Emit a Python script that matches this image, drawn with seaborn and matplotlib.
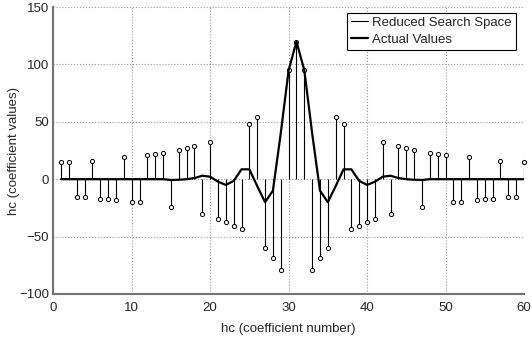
import pandas as pd
import seaborn as sns
import matplotlib.pyplot as plt
from matplotlib.lines import Line2D

# ---------------------------------------------------------------------
# Data
# ---------------------------------------------------------------------
coef_number = list(range(1, 61))

reduced_search = [
    14.7, 14.7, -15.8, -15.8, 16.1, -17.0, -17.5, -18.1, 19.0, -19.6,
    -20.0, 21.2, 22.0, 23.1, -24.5, 25.4, 27.0, 29.0, -30.0, 32.0,
    -34.7, -37.0, -40.8, -43.7, 48.0, 54.0, -60.0, -68.4, -79.0, 95.0,
    120.0, 95.0, -79.0, -68.4, -60.0, 54.0, 48.0, -43.7, -40.8, -37.0,
    -34.7, 32.0, -30.0, 29.0, 27.0, 25.4, -24.5, 23.1, 22.0, 21.2,
    -20.0, -19.6, 19.0, -18.1, -17.5, -17.0, 16.1, -15.8, -15.8, 14.7,
]

actual_values = [
    0, 0, 0, 0, 0, 0, 0, 0, 0, 0,
    0, 0, 0, 0, -0.7, -0.5, 0, 1.0, 3.0, 2.2,
    -2.2, -5.0, -1.5, 8.6, 8.6, -6.0, -20.0, -10.0, 40.0, 95.0,
    120.0, 95.0, 40.0, -10.0, -20.0, -6.0, 8.6, 8.6, -1.5, -5.0,
    -2.2, 2.2, 3.0, 1.0, 0, -0.5, -0.7, 0, 0, 0,
    0, 0, 0, 0, 0, 0, 0, 0, 0, 0,
]

x_ticks = [0, 10, 20, 30, 40, 50, 60]
y_ticks = [-100, -50, 0, 50, 100, 150]

df = pd.DataFrame({
    "n": coef_number,
    "reduced": reduced_search,
    "actual": actual_values,
})

# ---------------------------------------------------------------------
# Figure
# ---------------------------------------------------------------------
sns.set_style("white")
plt.rcParams["font.family"] = ["Liberation Sans", "DejaVu Sans"]

fig = plt.figure(figsize=(5.32, 3.39), dpi=100)
ax = fig.add_axes([0.100, 0.133, 0.885, 0.846])

# Stems of the reduced search space
ax.vlines(df["n"], 0, df["reduced"], color="black", lw=0.8, zorder=2)
sns.scatterplot(
    data=df, x="n", y="reduced", ax=ax,
    marker="o", s=9, color="white", edgecolor="black",
    linewidth=0.7, zorder=3, legend=False, clip_on=False
)

# Actual coefficient values
sns.lineplot(data=df, x="n", y="actual", ax=ax, color="black", lw=1.6, zorder=4)

# Axes formatting
ax.set_xlim(0, 60)
ax.set_ylim(-100, 150)
ax.set_xticks(x_ticks)
ax.set_yticks(y_ticks)
ax.grid(True, linestyle=":", color="0.6", lw=0.8)
ax.set_axisbelow(True)

for side in ["top", "right"]:
    ax.spines[side].set_visible(False)
for side in ["left", "bottom"]:
    ax.spines[side].set_color("0.45")
    ax.spines[side].set_linewidth(1.5)

ax.tick_params(direction="in", length=4, width=0.8, color="0.45",
               labelsize=9.5, pad=3)
ax.tick_params(axis="x", pad=6)

ax.set_xlabel("hc (coefficient number)", fontsize=9.5, labelpad=6)
ax.set_ylabel("hc (coefficient values)", fontsize=9.5, labelpad=-1)

# Legend
handles = [
    Line2D([0], [0], color="black", lw=0.8),
    Line2D([0], [0], color="black", lw=1.6),
]
leg = ax.legend(
    handles, ["Reduced Search Space", "Actual Values"],
    loc="upper right", bbox_to_anchor=(0.983, 0.98), borderaxespad=0,
    fontsize=9.5, handlelength=1.3, handletextpad=0.3,
    fancybox=False, framealpha=1, edgecolor="black",
    borderpad=0.3, labelspacing=0.35
)
leg.get_frame().set_linewidth(0.8)

fig.savefig("out.png", dpi=100)
